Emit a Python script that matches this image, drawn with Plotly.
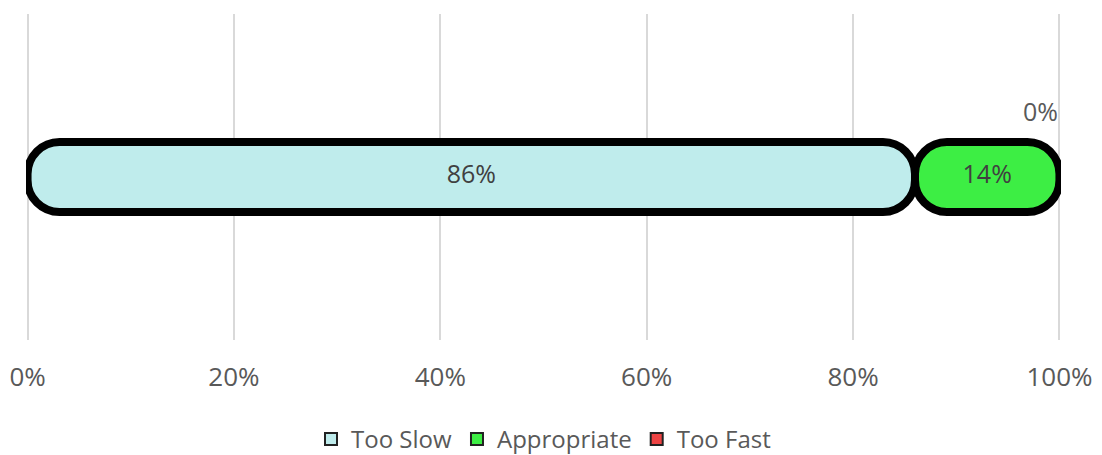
import plotly.graph_objects as go

# data
categories = ["Too Slow", "Appropriate", "Too Fast"]
shares = [86, 14, 0]
fills = ["#BFECEC", "#3DEE44", "#EE4444"]
tick_vals = [0, 20, 40, 60, 80, 100]
tick_text = ["0%", "20%", "40%", "60%", "80%", "100%"]

FONT = "Open Sans"
GREY = "#595959"

fig = go.Figure()

starts = []
acc = 0
for v in shares:
    starts.append(acc)
    acc += v

# segments as separate rounded bars (overlay + base so each end is rounded)
for name, v, s, c in zip(categories, shares, starts, fills):
    if v <= 0:
        continue
    fig.add_trace(go.Bar(
        x=[v], y=[0], base=[s], orientation="h",
        width=0.215,
        marker=dict(color=c, line=dict(color="black", width=8), cornerradius=32),
        showlegend=False, hoverinfo="skip",
    ))

# value labels
mids = [s + v / 2 for s, v in zip(starts, shares)]
shown = [(m, v) for m, v in zip(mids, shares) if v > 0]
fig.add_trace(go.Scatter(
    x=[m for m, v in shown], y=[0] * len(shown), mode="text",
    text=[f"{v}%" for m, v in shown],
    textfont=dict(family=FONT, size=25, color="#404040"),
    showlegend=False, hoverinfo="skip",
))
for m, v in zip(mids, shares):
    if v == 0:
        fig.add_annotation(x=m, y=0, text=f"{v}%", showarrow=False,
                           xanchor="right", yshift=66, xshift=1,
                           font=dict(family=FONT, size=25, color=GREY))

# legend entries
for name, c in zip(categories, fills):
    fig.add_trace(go.Bar(
        x=[None], y=[None], name=name, orientation="h",
        marker=dict(color=c, line=dict(color="#222222", width=2)),
    ))

# page body has an 8px margin, so the figure is a bit smaller than the window
fig.update_layout(
    barmode="overlay",
    width=1094, height=447,
    margin=dict(l=18, r=41, t=6, b=115, autoexpand=False),
    plot_bgcolor="white", paper_bgcolor="white",
    font=dict(family=FONT, size=25, color=GREY),
    xaxis=dict(
        range=[-0.15, 100.15], tickvals=tick_vals, ticktext=tick_text,
        showgrid=True, gridcolor="#D9D9D9", gridwidth=1.5,
        zeroline=False, showline=False, automargin=False,
        ticklabeloverflow="allow",
        ticks="outside", ticklen=14, tickcolor="rgba(0,0,0,0)",
        tickfont=dict(family=FONT, size=26, color=GREY),
    ),
    yaxis=dict(range=[-0.5, 0.5], showticklabels=False, showgrid=False,
               zeroline=False, automargin=False),
    legend=dict(orientation="h", x=0.5, xanchor="center", y=-0.305, yanchor="middle",
                font=dict(family=FONT, size=24, color=GREY), itemwidth=30),
)

fig.write_html("out.html")
